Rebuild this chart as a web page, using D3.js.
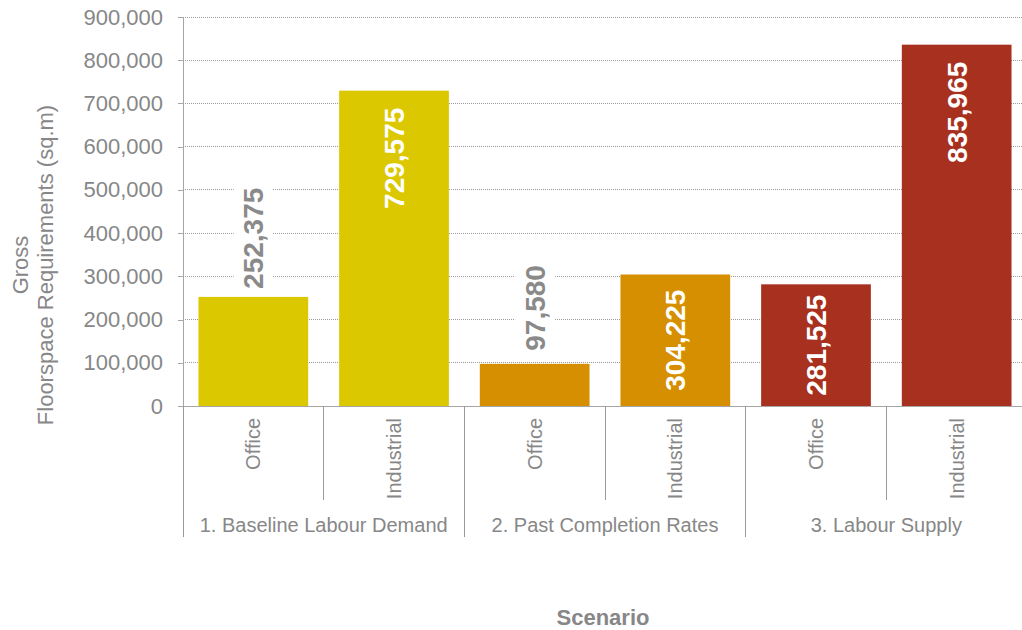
<!DOCTYPE html>
<html>
<head>
<meta charset="utf-8">
<script src="https://cdn.jsdelivr.net/npm/d3@7"></script>
<style>
  html, body { margin: 0; padding: 0; background: #fff; }
  svg { display: block; font-family: "Liberation Sans", Arial, sans-serif; }
</style>
</head>
<body>
<svg id="chart" width="1022" height="630"></svg>
<script>
// Floorspace requirements by scenario and land use
const scenarios = ["1. Baseline Labour Demand", "2. Past Completion Rates", "3. Labour Supply"];
const uses = ["Office", "Industrial"];
const officeValues = [252375, 97580, 281525];
const industrialValues = [729575, 304225, 835965];
const scenarioColors = ["#DCC800", "#D68F00", "#A8301F"];
const yTicks = [0, 100000, 200000, 300000, 400000, 500000, 600000, 700000, 800000, 900000];

const rows = [];
scenarios.forEach((s, i) => {
  rows.push({ scenario: s, use: "Office", value: officeValues[i], color: scenarioColors[i] });
  rows.push({ scenario: s, use: "Industrial", value: industrialValues[i], color: scenarioColors[i] });
});

const svg = d3.select("#chart");
const W = 1022;
const plotLeft = 183, plotRight = 1027, plotTop = 17, plotBottom = 406;
const textGrey = "#878787";

const y = d3.scaleLinear().domain([0, 900000]).range([plotBottom, plotTop]);
const x0 = d3.scaleBand().domain(scenarios).range([plotLeft, plotRight]).padding(0);
const x1 = d3.scaleBand().domain(uses).range([0, x0.bandwidth()])
  .paddingInner(0.22).paddingOuter(0.11);

// dotted gridlines
svg.append("g")
  .selectAll("line")
  .data(yTicks.filter(t => t > 0))
  .join("line")
  .attr("x1", plotLeft).attr("x2", W)
  .attr("y1", d => y(d)).attr("y2", d => y(d))
  .attr("stroke", "#9a9a9a")
  .attr("stroke-width", 1)
  .attr("stroke-dasharray", "1,1")
  .attr("shape-rendering", "crispEdges");

// y axis
const yAxis = svg.append("g")
  .attr("transform", `translate(${plotLeft},0)`)
  .call(d3.axisLeft(y).tickValues(yTicks).tickFormat(d3.format(",")).tickSize(5).tickPadding(15));
yAxis.select(".domain").attr("stroke", "#a6a6a6").attr("shape-rendering", "crispEdges");
yAxis.selectAll(".tick line").attr("stroke", "#a6a6a6").attr("shape-rendering", "crispEdges");
yAxis.selectAll(".tick text")
  .attr("fill", textGrey)
  .style("font-size", "22px")
  .style("font-family", "'Liberation Sans', Arial, sans-serif");

// bars
const barG = svg.append("g");
barG.selectAll("rect")
  .data(rows)
  .join("rect")
  .attr("x", d => x0(d.scenario) + x1(d.use))
  .attr("width", x1.bandwidth())
  .attr("y", d => y(d.value))
  .attr("height", d => y(0) - y(d.value))
  .attr("fill", d => d.color);

// baseline
svg.append("line")
  .attr("x1", plotLeft - 5).attr("x2", W)
  .attr("y1", plotBottom).attr("y2", plotBottom)
  .attr("stroke", "#a6a6a6").attr("shape-rendering", "crispEdges");

// category separators (within scenario) and scenario boundaries
const sepG = svg.append("g").attr("stroke", "#9a9a9a").attr("shape-rendering", "crispEdges");
scenarios.forEach(s => {
  const gx = x0(s);
  sepG.append("line").attr("x1", gx).attr("x2", gx).attr("y1", plotBottom).attr("y2", 537);
  const mid = gx + x0.bandwidth() / 2;
  sepG.append("line").attr("x1", mid).attr("x2", mid).attr("y1", plotBottom).attr("y2", 500);
});
sepG.append("line").attr("x1", plotRight).attr("x2", plotRight).attr("y1", plotBottom).attr("y2", 537);

// category labels (rotated)
svg.append("g")
  .selectAll("text")
  .data(rows)
  .join("text")
  .attr("transform", d => `translate(${x0(d.scenario) + x1(d.use) + x1.bandwidth() / 2},418) rotate(-90)`)
  .attr("dy", "0.35em")
  .attr("text-anchor", "end")
  .attr("fill", textGrey)
  .style("font-size", "20px")
  .text(d => d.use);

// scenario labels
svg.append("g")
  .selectAll("text")
  .data(scenarios)
  .join("text")
  .attr("x", d => x0(d) + x0.bandwidth() / 2)
  .attr("y", 532)
  .attr("text-anchor", "middle")
  .attr("fill", textGrey)
  .style("font-size", "20px")
  .text(d => d);

// value labels: inside the bar when it fits, otherwise above it on a white box
const fmt = d3.format(",");
const labelG = svg.append("g");
rows.forEach(d => {
  const cx = x0(d.scenario) + x1(d.use) + x1.bandwidth() / 2;
  const top = y(d.value);
  const h = y(0) - top;
  const inside = h > 115;
  const g = labelG.append("g");
  const t = g.append("text")
    .attr("dy", "0.36em")
    .attr("text-anchor", inside ? "end" : "start")
    .attr("fill", inside ? "#ffffff" : "#8a8a8a")
    .style("font-size", "28px")
    .style("font-weight", "bold")
    .text(fmt(d.value));
  const len = t.node().getComputedTextLength();
  if (inside) {
    const offset = Math.min(17, Math.max((h - len) / 2, h - len - 19));
    t.attr("transform", `translate(${cx},${top + offset}) rotate(-90)`);
  } else {
    const gap = 8 + Math.max(0, (101 - len) / 3);
    t.attr("transform", `translate(${cx},${top - gap}) rotate(-90)`);
    g.insert("rect", "text")
      .attr("x", cx - 19.5)
      .attr("width", 39)
      .attr("y", top - gap - len - 4)
      .attr("height", len + 8)
      .attr("fill", "#ffffff");
  }
});

// axis titles
const yTitle = svg.append("text")
  .attr("transform", "translate(20,265) rotate(-90)")
  .attr("text-anchor", "middle")
  .attr("fill", textGrey)
  .style("font-size", "22px");
yTitle.append("tspan").attr("x", 0).attr("dy", "0.35em").text("Gross");
yTitle.append("tspan").attr("x", 0).attr("dy", "25px").text("Floorspace Requirements (sq.m)");

svg.append("text")
  .attr("x", (plotLeft + plotRight) / 2 - 2)
  .attr("y", 625)
  .attr("text-anchor", "middle")
  .attr("fill", textGrey)
  .style("font-size", "22px")
  .style("font-weight", "bold")
  .text("Scenario");
</script>
</body>
</html>
